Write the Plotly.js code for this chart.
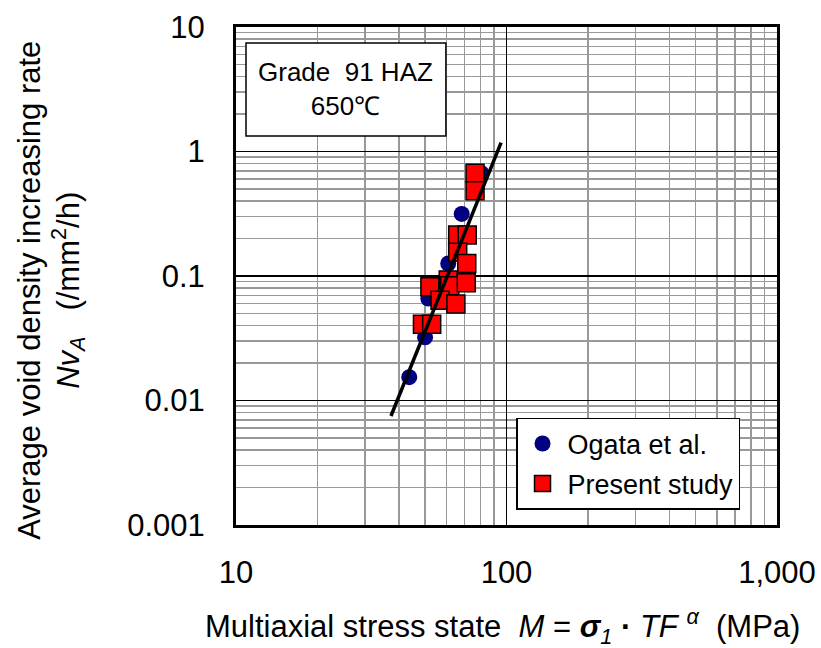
<!DOCTYPE html>
<html>
<head>
<meta charset="utf-8">
<script src="https://cdn.plot.ly/plotly-3.0.1.min.js"></script>
<style>
  html, body { margin: 0; padding: 0; background: #ffffff; }
  #chart { width: 821px; height: 648px; }
</style>
</head>
<body>
<div id="chart"></div>
<script>
// Ogata et al. data: multiaxial stress state M (MPa) vs. void density increasing rate (/mm2/h)
const ogataM  = [43.7, 50.0, 51.4, 60.9, 68.3, 80.9];
const ogataNv = [0.0154, 0.0322, 0.066, 0.126, 0.315, 0.668];

// Present study data
const presentM  = [76.5, 76.5, 66.0, 71.6, 66.0, 71.3, 52.1, 60.9, 61.7, 71.0, 56.8, 65.0, 48.9, 52.9];
const presentNv = [0.668, 0.484, 0.2135, 0.2135, 0.155, 0.126, 0.082, 0.093, 0.0836, 0.0883, 0.064, 0.0596, 0.041, 0.041];

// Regression line end points
const fitM  = [37.4, 95.5];
const fitNv = [0.00751, 1.177];

// Axis ticks
const xTickVals = [10, 100, 1000];
const xTickText = ["10", "100", "1,000"];
const yTickVals = [0.001, 0.01, 0.1, 1, 10];
const yTickText = ["0.001", "0.01", "0.1", "1", "10"];

const FONT = "Liberation Sans, Arial, sans-serif";

const traces = [
  {
    x: ogataM, y: ogataNv, type: "scatter", mode: "markers",
    name: "Ogata et al.", legendgroup: "a",
    marker: { symbol: "circle", size: 16, color: "#000080", line: { width: 0 } }
  },
  {
    x: presentM, y: presentNv, type: "scatter", mode: "markers",
    name: "Present study", legendgroup: "b",
    marker: { symbol: "square", size: 18, color: "#ff0000", line: { width: 1.5, color: "#000000" } }
  },
  {
    x: fitM, y: fitNv, type: "scatter", mode: "lines",
    showlegend: false, hoverinfo: "skip",
    line: { color: "#000000", width: 3.5 }
  }
];

const axisCommon = {
  type: "log",
  tickmode: "array",
  ticks: "",
  showline: true, mirror: true, linecolor: "#000000", linewidth: 3,
  showgrid: true, gridcolor: "#000000", gridwidth: 1.8,
  zeroline: false,
  tickfont: { family: FONT, size: 31, color: "#000000" },
  minor: { dtick: "D1", showgrid: true, gridcolor: "#999999", gridwidth: 1.5, ticks: "" }
};

const layout = {
  width: 821, height: 648,
  margin: { l: 236, r: 44, t: 27, b: 123 },
  paper_bgcolor: "#ffffff", plot_bgcolor: "#ffffff",
  font: { family: FONT, color: "#000000" },
  showlegend: true,
  legend: {
    x: 0.5176, y: 0.215, xanchor: "left", yanchor: "top",
    bgcolor: "#ffffff", bordercolor: "#000000", borderwidth: 1.5,
    font: { family: FONT, size: 27, color: "#000000" },
    traceorder: "grouped", tracegroupgap: 2, itemwidth: 40
  },
  xaxis: Object.assign({}, axisCommon, {
    range: [1, 3],
    tickvals: xTickVals, ticktext: xTickText,
    ticklabelstandoff: 18
  }),
  yaxis: Object.assign({}, axisCommon, {
    range: [-3, 1],
    tickvals: yTickVals, ticktext: yTickText,
    ticklabelstandoff: 22
  }),
  shapes: [
    {
      type: "rect", xref: "paper", yref: "paper", layer: "above",
      x0: 0.0185, x1: 0.388, y0: 0.781, y1: 0.968,
      line: { color: "#000000", width: 1.5 }, fillcolor: "#ffffff"
    }
  ],
  annotations: [
    {
      xref: "paper", yref: "paper", x: 0.2033, y: 0.8745,
      xanchor: "center", yanchor: "middle", showarrow: false,
      text: "Grade\u00a0\u00a091\u00a0HAZ<br>650℃",
      font: { family: FONT, size: 26, color: "#000000" }
    },
    {
      // x-axis title
      xref: "paper", yref: "paper", x: 0.4917, y: -0.204,
      xanchor: "center", yanchor: "middle", showarrow: false,
      text: "Multiaxial stress state\u00a0\u00a0<i>M</i> = <b><i>σ</i></b><sub><i>1</i></sub> <b>·</b> <i>TF</i> <sup><i>α</i></sup>\u00a0\u00a0(MPa)",
      font: { family: FONT, size: 31, color: "#000000" }
    },
    {
      // y-axis title, first line
      xref: "paper", yref: "paper", x: -0.381, y: 0.472,
      xanchor: "center", yanchor: "middle", showarrow: false, textangle: -90,
      text: "Average void density increasing rate",
      font: { family: FONT, size: 31, color: "#000000" }
    },
    {
      // y-axis title, second line
      xref: "paper", yref: "paper", x: -0.309, y: 0.472,
      xanchor: "center", yanchor: "middle", showarrow: false, textangle: -90,
      text: "<i>Nv</i><sub><i>A</i></sub>\u00a0\u00a0\u00a0(/mm<sup>2</sup>/h)",
      font: { family: FONT, size: 31, color: "#000000" }
    }
  ]
};

Plotly.newPlot("chart", traces, layout, { displayModeBar: false, staticPlot: true });
</script>
</body>
</html>
